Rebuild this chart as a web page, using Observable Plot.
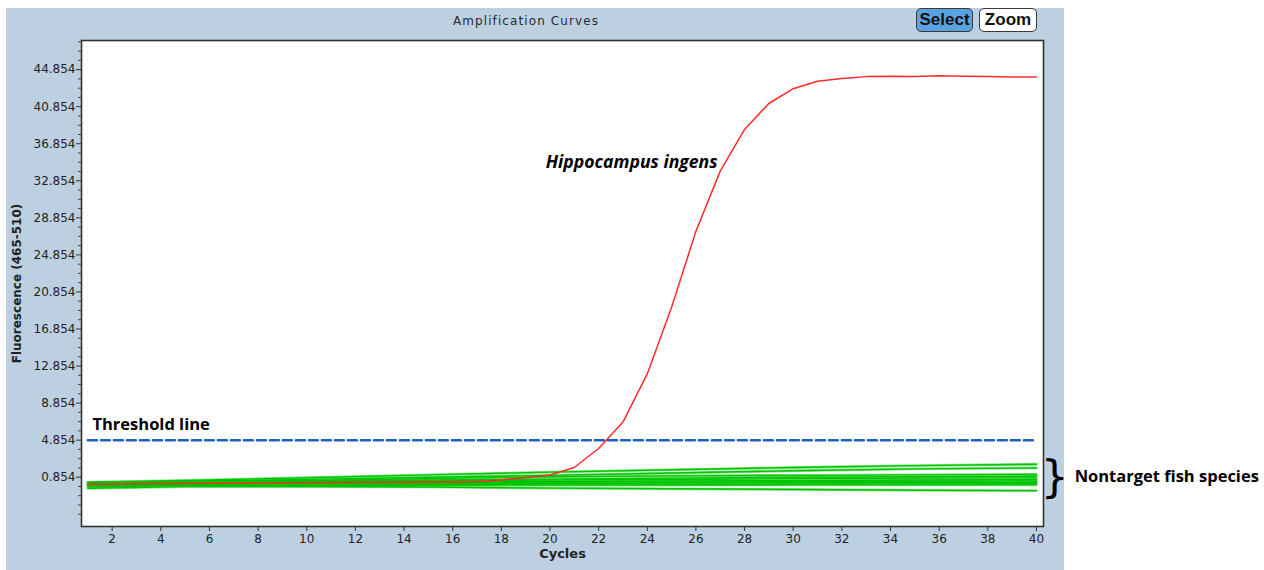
<!DOCTYPE html>
<html>
<head>
<meta charset="utf-8">
<script src="https://cdn.jsdelivr.net/npm/d3@7"></script>
<script src="https://cdn.jsdelivr.net/npm/@observablehq/plot@0.6"></script>
<style>
  html, body { margin: 0; padding: 0; background: #ffffff; }
  body { width: 1264px; height: 570px; position: relative; overflow: hidden; }
  #panel { position: absolute; left: 6px; top: 8px; width: 1058px; height: 562px; background: #bdd0e1; }
  #title { position: absolute; left: 6px; width: 1040px; top: 14px; text-align: center;
           font-family: "DejaVu Sans", sans-serif; font-size: 12px; letter-spacing: 1.1px; color: #2a2a2a; }
  .btn { position: absolute; top: 8px; height: 24px; border: 1px solid #3a3a3a; border-radius: 5px;
         font-family: "Liberation Sans", Arial, sans-serif; font-weight: bold; font-size: 17px;
         line-height: 22px; text-align: center; color: #111; box-sizing: border-box; }
  #sel { left: 916px; width: 57px; background: #5aa3e0; }
  #zoom { left: 979px; width: 58px; background: #ffffff; }
  #chart { position: absolute; left: 6px; top: 34px; }
</style>
</head>
<body>
<div id="panel"></div>
<div id="title">Amplification Curves</div>
<div class="btn" id="sel">Select</div>
<div class="btn" id="zoom">Zoom</div>
<div id="chart"></div>
<script>
// ---- data ----
const cycles = [1,2,3,4,5,6,7,8,9,10,11,12,13,14,15,16,17,18,19,20,
                21,22,23,24,25,26,27,28,29,30,31,32,33,34,35,36,37,38,39,40];
// Hippocampus ingens (target) fluorescence
const targetValues = [0.10,0.12,0.14,0.16,0.18,0.20,0.22,0.24,0.26,0.28,
                      0.29,0.30,0.31,0.32,0.33,0.34,0.38,0.56,0.80,1.10,
                      1.90,3.95,6.80,12.0,19.2,27.4,33.9,38.4,41.2,42.8,
                      43.6,43.9,44.1,44.15,44.1,44.2,44.15,44.1,44.05,44.05];
// Nontarget fish species, read at these cycles
const greenCycles = [1,5,10,15,20,25,30,35,40];
const green01 = [0.30,0.50,0.80,1.10,1.40,1.65,1.90,2.10,2.25];
const green02 = [0.28,0.42,0.62,0.85,1.05,1.30,1.55,1.75,1.85];
const green03 = [0.25,0.35,0.50,0.70,0.90,1.00,1.05,1.10,1.15];
const green04 = [0.20,0.30,0.45,0.55,0.65,0.75,0.85,0.90,0.95];
const green05 = [0.15,0.25,0.35,0.45,0.55,0.60,0.70,0.75,0.78];
const green06 = [0.10,0.20,0.28,0.35,0.40,0.45,0.50,0.55,0.60];
const green07 = [0.05,0.15,0.20,0.25,0.30,0.35,0.40,0.42,0.45];
const green08 = [0.00,0.08,0.12,0.18,0.20,0.22,0.25,0.28,0.30];
const green09 = [-0.10,0.02,0.05,0.08,0.10,0.10,0.12,0.12,0.15];
const green10 = [-0.20,-0.05,-0.05,-0.02,0.00,0.00,0.02,0.02,0.02];
const green11 = [-0.35,-0.15,-0.15,-0.20,-0.33,-0.40,-0.47,-0.55,-0.60];
const greenSeries = [green01,green02,green03,green04,green05,green06,green07,green08,green09,green10,green11];

const threshold = 4.854;
const thresholdSpan = [1, 40];

const xTicks = [2,4,6,8,10,12,14,16,18,20,22,24,26,28,30,32,34,36,38,40];
const yTicks = [0.854,4.854,8.854,12.854,16.854,20.854,24.854,28.854,32.854,36.854,40.854,44.854];
const yMinorTicks = [-3.146,-2.146,-1.146,-0.146,1.854,2.854,3.854,5.854,6.854,7.854,9.854,10.854,11.854,
  13.854,14.854,15.854,17.854,18.854,19.854,21.854,22.854,23.854,25.854,26.854,27.854,
  29.854,30.854,31.854,33.854,34.854,35.854,37.854,38.854,39.854,41.854,42.854,43.854,45.854,46.854,47.854];

const thresholdLabel = [{text: "Threshold line", x: 1.19, y: 6.55}];
const targetLabel = [{text: "Hippocampus ingens", x: 26.89, y: 34.84}];
const nontargetLabel = [{text: "Nontarget fish species", x: 41.57, y: 0.93}];
const brace = [{text: "}", x: 40.75, y: 0.77}];

// ---- build tables ----
const targetRows = cycles.map((c, i) => ({cycle: c, value: targetValues[i]}));
const greenRows = greenSeries.flatMap((s, k) => s.map((v, i) => ({series: k, cycle: greenCycles[i], value: v})));
const thresholdRows = thresholdSpan.map(c => ({cycle: c, value: threshold}));

const labelFont = {fontWeight: "bold", fontSize: 16.5, fontFamily: "'Open Sans', sans-serif", fill: "#000", clip: false};

const chart = Plot.plot({
  width: 1258,
  height: 536,
  marginLeft: 75,
  marginRight: 221,
  marginTop: 6,
  marginBottom: 44,
  style: {background: "transparent", fontFamily: "'DejaVu Sans', sans-serif", fontSize: "12px", color: "#222", overflow: "visible"},
  x: {domain: [0.74, 40.29]},
  y: {domain: [-4.47, 48.0]},
  marks: [
    Plot.frame({fill: "#ffffff", stroke: "#333333", strokeWidth: 1.6}),
    Plot.axisY(yMinorTicks, {tickSize: 3, tickFormat: () => "", label: null, stroke: "#444"}),
    Plot.axisY(yTicks, {tickSize: 5, tickPadding: 1, tickFormat: d => d.toFixed(3), label: null, stroke: "#333", fill: "#222"}),
    Plot.axisX(xTicks, {tickSize: 5, tickPadding: 3, label: null, stroke: "#333", fill: "#222"}),
    Plot.text(["Cycles"], {frameAnchor: "bottom", dy: 31, fontWeight: "bold", fontSize: 13, fill: "#222"}),
    Plot.text(["Fluorescence (465-510)"], {frameAnchor: "left", dx: -64, rotate: -90, textAnchor: "middle", fontWeight: "bold", fontSize: 12, fill: "#222"}),
    Plot.line(greenRows, {x: "cycle", y: "value", z: "series", stroke: "#8ae68a", strokeWidth: 2.8}),
    Plot.line(greenRows, {x: "cycle", y: "value", z: "series", stroke: "#00c400", strokeWidth: 1.4}),
    Plot.line(thresholdRows, {x: "cycle", y: "value", stroke: "#1f5fbf", strokeWidth: 2.5, strokeDasharray: "9,4"}),
    Plot.line(targetRows, {x: "cycle", y: "value", stroke: "#ff2a2a", strokeWidth: 1.5}),
    Plot.text(thresholdLabel, {x: "x", y: "y", text: "text", textAnchor: "start", ...labelFont}),
    Plot.text(targetLabel, {x: "x", y: "y", text: "text", textAnchor: "end", fontStyle: "italic", ...labelFont, fontSize: 17.6}),
    Plot.text(nontargetLabel, {x: "x", y: "y", text: "text", textAnchor: "start", ...labelFont}),
    Plot.text(brace, {x: "x", y: "y", text: "text", fontSize: 44, fontFamily: "'DejaVu Sans', sans-serif", fontWeight: "normal", fill: "#000", clip: false})
  ]
});
document.getElementById("chart").appendChild(chart);
</script>
</body>
</html>
